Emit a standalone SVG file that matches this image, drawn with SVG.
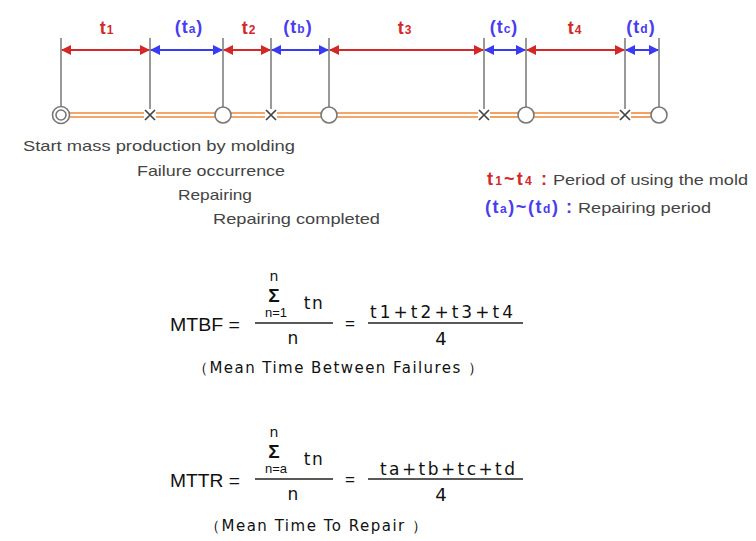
<svg xmlns="http://www.w3.org/2000/svg" width="756" height="541" viewBox="0 0 756 541">
<defs>
<style>
.vl{stroke:#555;stroke-width:1.2}
.ra{stroke:#d42828;stroke-width:2;fill:none}
.ba{stroke:#3a3af0;stroke-width:2;fill:none}
.or{stroke:#f08a3a;stroke-width:1.6}
.nd{fill:#fff;stroke:#777;stroke-width:1.6}
.x{stroke:#444;stroke-width:1.7}
.lab{font-family:"Liberation Sans",Arial,sans-serif;font-size:18px;font-weight:bold;letter-spacing:1px}
.red{fill:#d42828}
.blue{fill:#4a3cf0}
.txt{font-family:"Liberation Sans",Arial,sans-serif;font-size:15px;fill:#444}
.f{font-family:"Liberation Sans",Arial,sans-serif;fill:#111}
.g{font-family:"DejaVu Sans",sans-serif}
.fl{stroke:#222;stroke-width:1.3}
</style>
<marker id="rh" viewBox="0 0 10 10" refX="9" refY="5" markerWidth="5" markerHeight="5" orient="auto-start-reverse" markerUnits="strokeWidth"><path d="M0,0 L10,5 L0,10 z" fill="#d42828"/></marker>
<marker id="bh" viewBox="0 0 10 10" refX="9" refY="5" markerWidth="5" markerHeight="5" orient="auto-start-reverse" markerUnits="strokeWidth"><path d="M0,0 L10,5 L0,10 z" fill="#3a3af0"/></marker>
</defs>
<rect width="756" height="541" fill="#fff"/>

<g id="connectors">
<g id="verticals">
<line class="vl" x1="61" y1="38" x2="61" y2="106"/>
<line class="vl" x1="150" y1="38" x2="150" y2="109"/>
<line class="vl" x1="223" y1="38" x2="223" y2="107"/>
<line class="vl" x1="271" y1="38" x2="271" y2="109"/>
<line class="vl" x1="329" y1="38" x2="329" y2="107"/>
<line class="vl" x1="484" y1="38" x2="484" y2="109"/>
<line class="vl" x1="526" y1="38" x2="526" y2="107"/>
<line class="vl" x1="625" y1="38" x2="625" y2="109"/>
<line class="vl" x1="659" y1="38" x2="659" y2="107"/>
</g>
<g id="arrows">
<line class="ra" x1="62" y1="50" x2="149" y2="50" marker-start="url(#rh)" marker-end="url(#rh)"/>
<line class="ba" x1="151" y1="50" x2="222" y2="50" marker-start="url(#bh)" marker-end="url(#bh)"/>
<line class="ra" x1="224" y1="50" x2="270" y2="50" marker-start="url(#rh)" marker-end="url(#rh)"/>
<line class="ba" x1="272" y1="50" x2="328" y2="50" marker-start="url(#bh)" marker-end="url(#bh)"/>
<line class="ra" x1="330" y1="50" x2="483" y2="50" marker-start="url(#rh)" marker-end="url(#rh)"/>
<line class="ba" x1="485" y1="50" x2="525" y2="50" marker-start="url(#bh)" marker-end="url(#bh)"/>
<line class="ra" x1="527" y1="50" x2="624" y2="50" marker-start="url(#rh)" marker-end="url(#rh)"/>
<line class="ba" x1="626" y1="50" x2="658" y2="50" marker-start="url(#bh)" marker-end="url(#bh)"/>
</g>
<g id="timeline">
<line class="or" x1="70" y1="113" x2="144" y2="113"/><line class="or" x1="70" y1="117" x2="144" y2="117"/>
<line class="or" x1="156" y1="113" x2="215" y2="113"/><line class="or" x1="156" y1="117" x2="215" y2="117"/>
<line class="or" x1="231" y1="113" x2="265" y2="113"/><line class="or" x1="231" y1="117" x2="265" y2="117"/>
<line class="or" x1="277" y1="113" x2="321" y2="113"/><line class="or" x1="277" y1="117" x2="321" y2="117"/>
<line class="or" x1="337" y1="113" x2="478" y2="113"/><line class="or" x1="337" y1="117" x2="478" y2="117"/>
<line class="or" x1="490" y1="113" x2="518" y2="113"/><line class="or" x1="490" y1="117" x2="518" y2="117"/>
<line class="or" x1="534" y1="113" x2="619" y2="113"/><line class="or" x1="534" y1="117" x2="619" y2="117"/>
<line class="or" x1="631" y1="113" x2="651" y2="113"/><line class="or" x1="631" y1="117" x2="651" y2="117"/>
</g>
</g>

<g id="start-node"><circle class="nd" cx="61" cy="115" r="8.5"/><circle class="nd" cx="61" cy="115" r="5"/></g>
<g id="fail-1"><path class="x" d="M145,110 L155,120 M155,110 L145,120"/></g>
<g id="done-1"><circle class="nd" cx="223" cy="115" r="8"/></g>
<g id="fail-2"><path class="x" d="M266,110 L276,120 M276,110 L266,120"/></g>
<g id="done-2"><circle class="nd" cx="329" cy="115" r="8"/></g>
<g id="fail-3"><path class="x" d="M479,110 L489,120 M489,110 L479,120"/></g>
<g id="done-3"><circle class="nd" cx="526" cy="115" r="8"/></g>
<g id="fail-4"><path class="x" d="M620,110 L630,120 M630,110 L620,120"/></g>
<g id="done-4"><circle class="nd" cx="659" cy="115" r="8"/></g>

<g id="period-labels" class="lab">
<text x="107" y="34" text-anchor="middle" class="red">t<tspan font-size="12">1</tspan></text>
<text x="189" y="33" text-anchor="middle" class="blue">(t<tspan font-size="12">a</tspan>)</text>
<text x="249" y="34" text-anchor="middle" class="red">t<tspan font-size="12">2</tspan></text>
<text x="298" y="33" text-anchor="middle" class="blue">(t<tspan font-size="12">b</tspan>)</text>
<text x="405" y="34" text-anchor="middle" class="red">t<tspan font-size="12">3</tspan></text>
<text x="504" y="33" text-anchor="middle" class="blue">(t<tspan font-size="12">c</tspan>)</text>
<text x="575" y="34" text-anchor="middle" class="red">t<tspan font-size="12">4</tspan></text>
<text x="641" y="33" text-anchor="middle" class="blue">(t<tspan font-size="12">d</tspan>)</text>
</g>

<g id="event-labels" class="txt">
<text x="23" y="151" textLength="272" lengthAdjust="spacingAndGlyphs">Start mass production by molding</text>
<text x="137" y="176" textLength="148" lengthAdjust="spacingAndGlyphs">Failure occurrence</text>
<text x="178" y="200" textLength="74" lengthAdjust="spacingAndGlyphs">Repairing</text>
<text x="213" y="224" textLength="167" lengthAdjust="spacingAndGlyphs">Repairing completed</text>
</g>

<g id="legend">
<text x="487" y="185" class="lab red" font-size="17" textLength="61" lengthAdjust="spacing">t<tspan font-size="12">1</tspan>~t<tspan font-size="12">4</tspan> :</text>
<text x="553" y="185" class="txt" textLength="195" lengthAdjust="spacingAndGlyphs">Period of using the mold</text>
<text x="485" y="213" class="lab blue" font-size="17" textLength="88" lengthAdjust="spacing">(t<tspan font-size="12">a</tspan>)~(t<tspan font-size="12">d</tspan>) :</text>
<text x="578" y="213" class="txt" textLength="133" lengthAdjust="spacingAndGlyphs">Repairing period</text>
</g>

<g id="mtbf" class="f">
<text x="170" y="331" font-size="18" textLength="70" lengthAdjust="spacingAndGlyphs">MTBF =</text>
<text x="274" y="281" font-size="14" class="g" text-anchor="middle">n</text>
<text x="274" y="302" font-size="19" font-weight="bold" text-anchor="middle">Σ</text>
<text x="276" y="317" font-size="13" text-anchor="middle">n=1</text>
<text x="314" y="309" font-size="17" class="g" text-anchor="middle" letter-spacing="1.5">tn</text>
<line class="fl" x1="255" y1="323" x2="333" y2="323"/>
<text x="293" y="344" font-size="17" class="g" text-anchor="middle">n</text>
<text x="350" y="329" font-size="17" text-anchor="middle">=</text>
<text x="370" y="318" font-size="17" class="g" textLength="143" lengthAdjust="spacing">t1+t2+t3+t4</text>
<line class="fl" x1="368" y1="323" x2="523" y2="323"/>
<text x="441" y="345" font-size="18" class="g" text-anchor="middle">4</text>
<text x="193" y="373" font-size="15" class="g" textLength="290" lengthAdjust="spacing">（Mean Time Between Failures ）</text>
</g>

<g id="mttr" class="f">
<text x="170" y="487" font-size="18" textLength="70" lengthAdjust="spacingAndGlyphs">MTTR =</text>
<text x="274" y="437" font-size="14" class="g" text-anchor="middle">n</text>
<text x="274" y="458" font-size="19" font-weight="bold" text-anchor="middle">Σ</text>
<text x="276" y="473" font-size="13" text-anchor="middle">n=a</text>
<text x="314" y="465" font-size="17" class="g" text-anchor="middle" letter-spacing="1.5">tn</text>
<line class="fl" x1="255" y1="479" x2="333" y2="479"/>
<text x="293" y="500" font-size="17" class="g" text-anchor="middle">n</text>
<text x="350" y="485" font-size="17" text-anchor="middle">=</text>
<text x="380" y="475" font-size="17" class="g" textLength="135" lengthAdjust="spacing">ta+tb+tc+td</text>
<line class="fl" x1="368" y1="479" x2="523" y2="479"/>
<text x="441" y="501" font-size="18" class="g" text-anchor="middle">4</text>
<text x="205" y="531" font-size="15" class="g" textLength="222" lengthAdjust="spacing">（Mean Time To Repair ）</text>
</g>
</svg>
